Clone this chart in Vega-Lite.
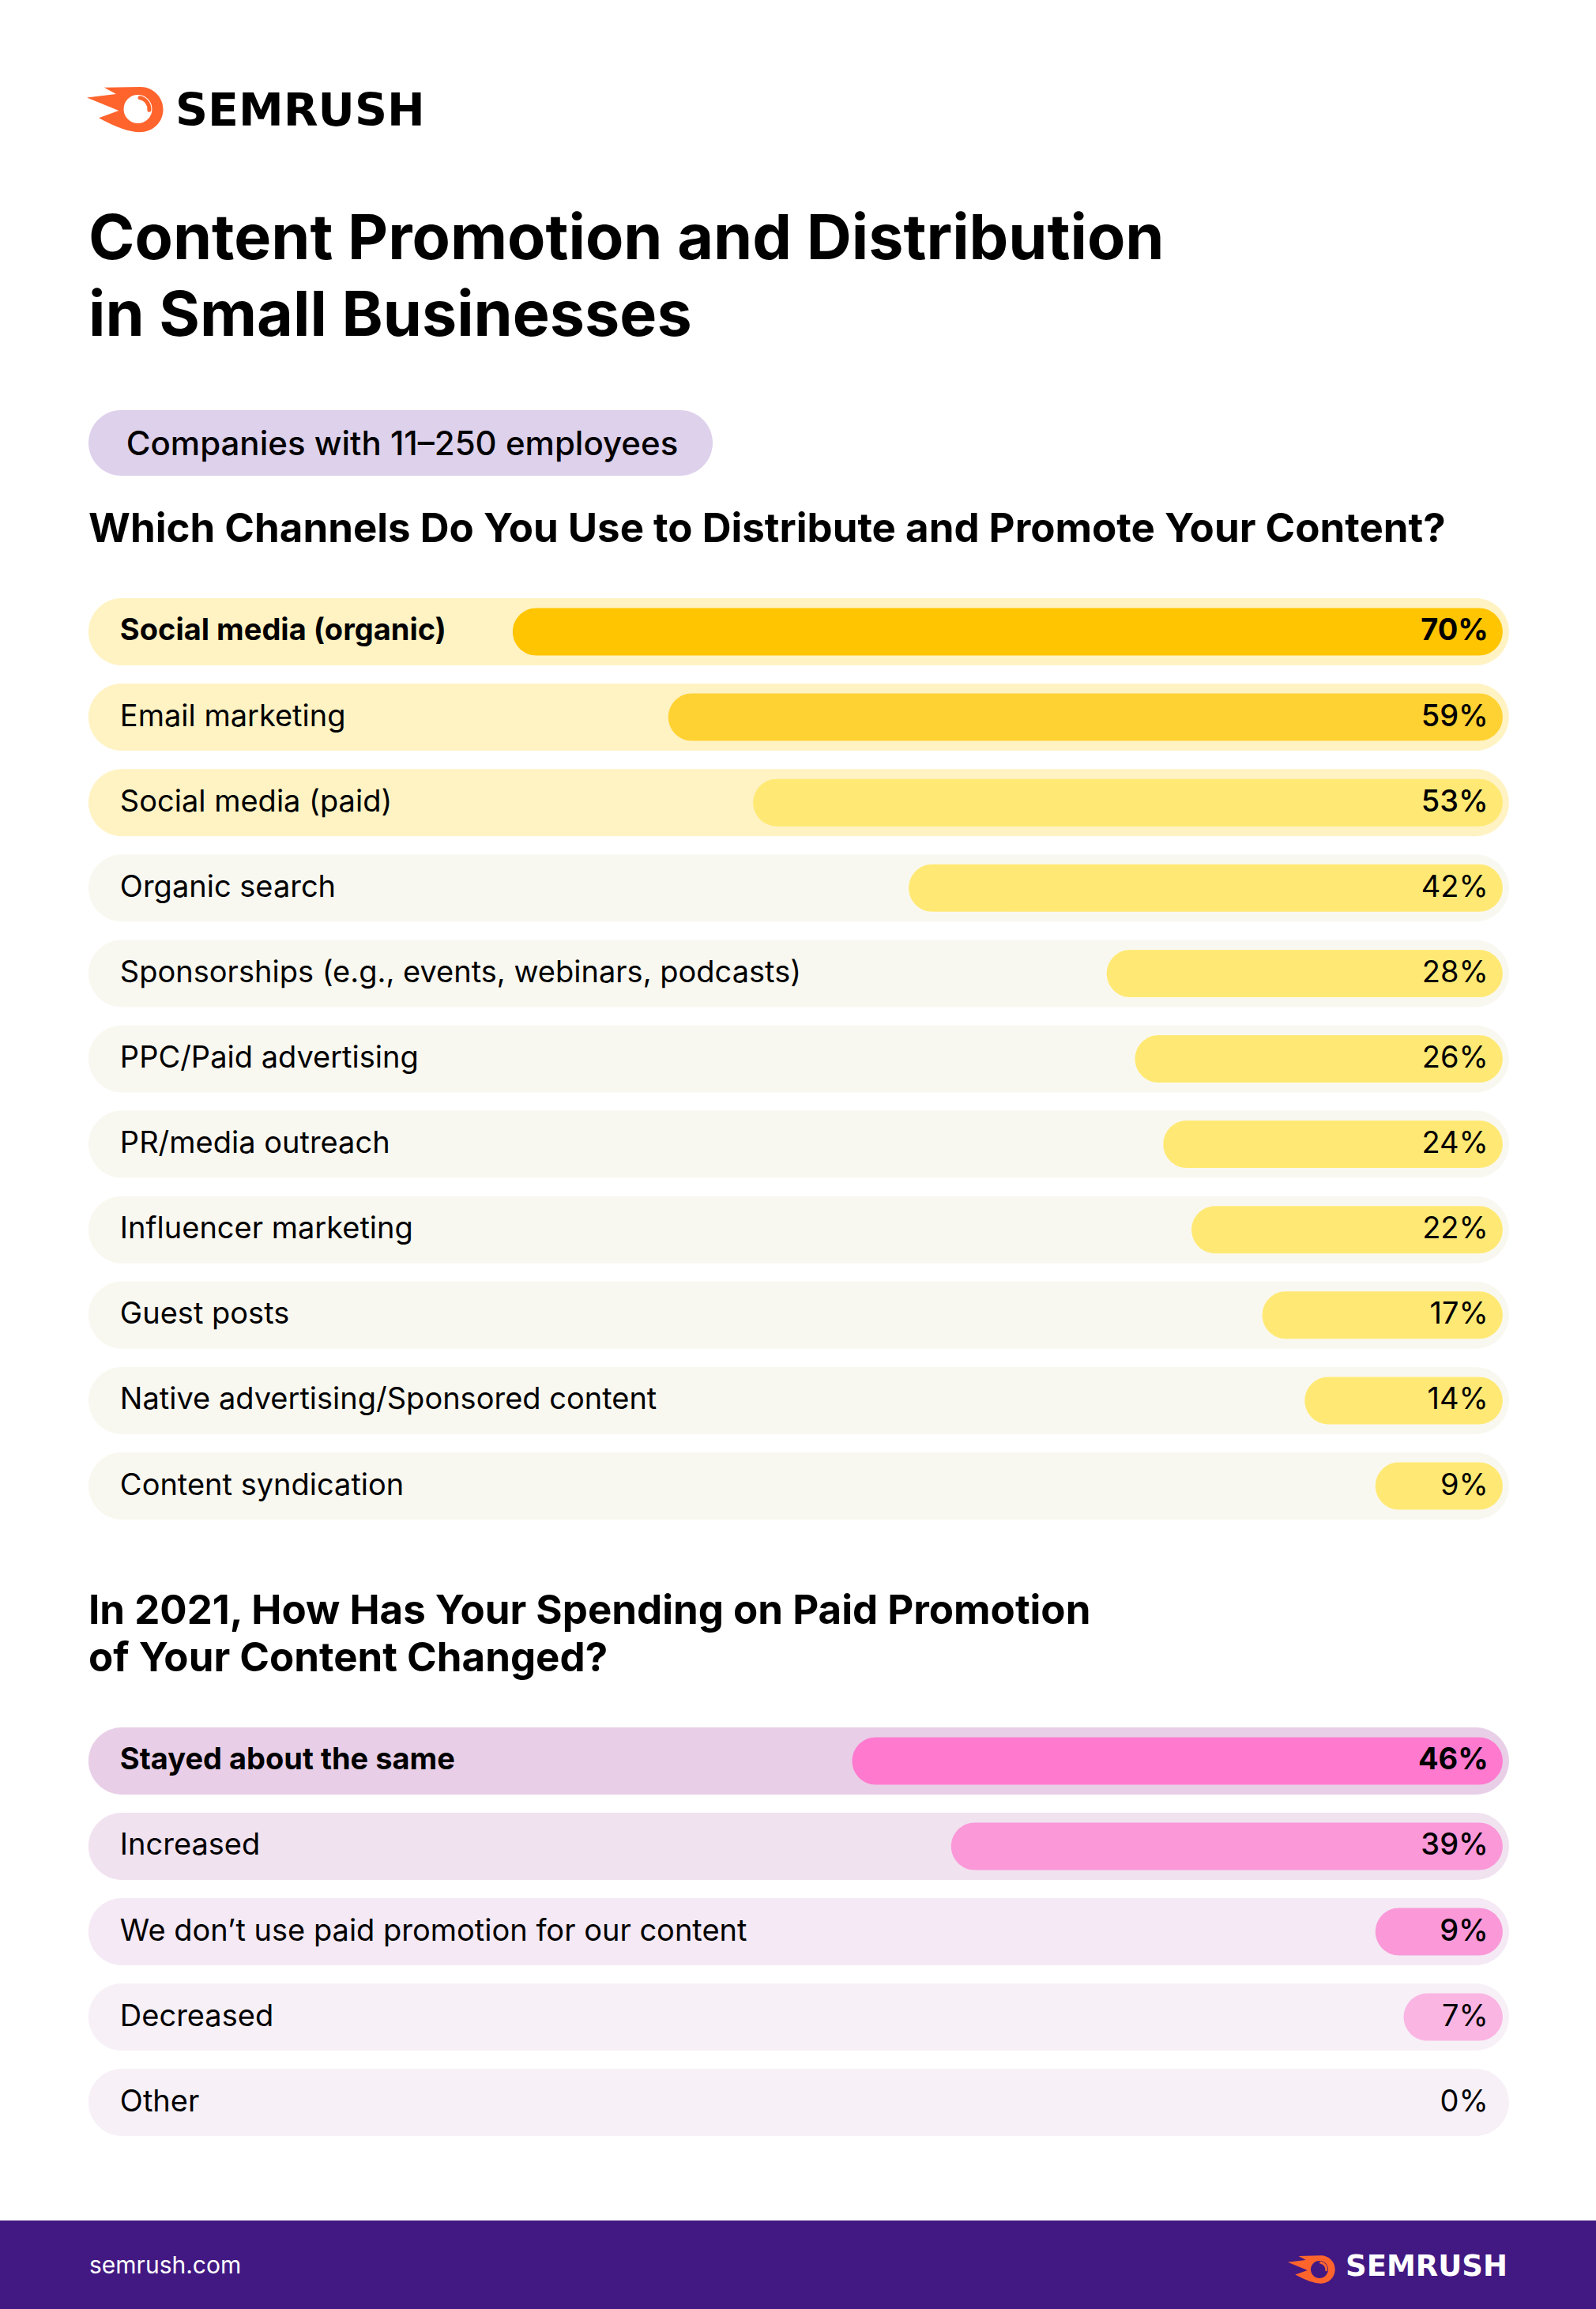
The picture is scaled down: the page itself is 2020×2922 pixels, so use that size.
{
  "$schema": "https://vega.github.io/schema/vega-lite/v6.json",
  "background": "#FFFFFF",
  "padding": 0,
  "spacing": 0,
  "bounds": "flush",
  "config": {"view": {"stroke": null}, "text": {"font": "Inter", "color": "#000000"}},
  "vconcat": [
    {
      "width": 2020, "height": 745,
      "data": {"values": [{}]},
      "layer": [
        {"mark": {"type": "point", "filled": true, "opacity": 1, "strokeWidth": 0, "color": "#FF642D", "size": 9409,
          "shape": "M -0.55 -0.57 L 0.40 -0.59 A 0.59 0.59 0 1 1 0.40 0.59 Q 0.0 0.6 -0.69 0.22 L -0.17 0.03 L -1 -0.31 L -0.24 -0.40 Z"},
         "encoding": {"x": {"datum": 158.5, "type": "quantitative", "scale": {"domain": [0, 2020], "nice": false, "zero": false}, "axis": null},
                      "y": {"datum": 138.5, "type": "quantitative", "scale": {"domain": [0, 745], "reverse": true, "nice": false, "zero": false}, "axis": null}}},
        {"mark": {"type": "point", "filled": true, "opacity": 1, "strokeWidth": 0, "color": "#FFFFFF", "size": 1296, "shape": "circle"},
         "encoding": {"x": {"datum": 174.5, "type": "quantitative"}, "y": {"datum": 138, "type": "quantitative"}}},
        {"mark": {"type": "point", "filled": false, "opacity": 1, "strokeWidth": 5, "strokeCap": "round", "color": "#FF642D", "size": 1296, "shape": "M 0.14 -0.79 A 0.8 0.8 0 0 1 0.8 0.07"},
         "encoding": {"x": {"datum": 174.5, "type": "quantitative"}, "y": {"datum": 138, "type": "quantitative"}}},
        {"mark": {"type": "text", "text": "SEMRUSH", "font": "DejaVu Sans", "fontWeight": "bold", "fontSize": 57, "align": "left", "baseline": "alphabetic"},
         "encoding": {"x": {"datum": 222, "type": "quantitative"}, "y": {"datum": 159, "type": "quantitative"}}},
        {"mark": {"type": "text", "text": ["Content Promotion and Distribution", "in Small Businesses"], "fontWeight": 700, "fontSize": 79, "lineHeight": 97, "align": "left", "baseline": "alphabetic"},
         "encoding": {"x": {"datum": 112, "type": "quantitative"}, "y": {"datum": 328, "type": "quantitative"}}},
        {"mark": {"type": "bar", "cornerRadius": 42, "color": "#DED1EC"},
         "encoding": {"x": {"datum": 112, "type": "quantitative"}, "x2": {"datum": 902}, "y": {"datum": 519, "type": "quantitative"}, "y2": {"datum": 602}}},
        {"mark": {"type": "text", "text": "Companies with 11–250 employees", "fontWeight": 500, "fontSize": 42, "align": "center", "baseline": "alphabetic"},
         "encoding": {"x": {"datum": 509, "type": "quantitative"}, "y": {"datum": 576, "type": "quantitative"}}},
        {"mark": {"type": "text", "text": "Which Channels Do You Use to Distribute and Promote Your Content?", "fontWeight": 700, "fontSize": 51, "align": "left", "baseline": "alphabetic"},
         "encoding": {"x": {"datum": 112, "type": "quantitative"}, "y": {"datum": 686, "type": "quantitative"}}}
      ]
    },
    {
      "width": 2020, "height": 1190,
      "data": {"values": [
        {"channel": "Social media (organic)", "share": 0.70},
        {"channel": "Email marketing", "share": 0.59},
        {"channel": "Social media (paid)", "share": 0.53},
        {"channel": "Organic search", "share": 0.42},
        {"channel": "Sponsorships (e.g., events, webinars, podcasts)", "share": 0.28},
        {"channel": "PPC/Paid advertising", "share": 0.26},
        {"channel": "PR/media outreach", "share": 0.24},
        {"channel": "Influencer marketing", "share": 0.22},
        {"channel": "Guest posts", "share": 0.17},
        {"channel": "Native advertising/Sponsored content", "share": 0.14},
        {"channel": "Content syndication", "share": 0.09}
      ]},
      "encoding": {"y": {"field": "channel", "type": "nominal", "sort": null, "axis": null, "scale": {"paddingInner": 0.2137, "paddingOuter": 0.111}}},
      "layer": [
        {"mark": {"type": "bar", "cornerRadius": 42.5},
         "encoding": {"x": {"datum": 1, "type": "quantitative", "scale": {"domain": [-0.066, 1.0625], "reverse": true, "nice": false, "zero": false}, "axis": null},
                      "x2": {"datum": -0.0045},
                      "color": {"field": "channel", "type": "nominal", "legend": null, "scale": {
                        "domain": ["Social media (organic)", "Email marketing", "Social media (paid)", "Organic search", "Sponsorships (e.g., events, webinars, podcasts)", "PPC/Paid advertising", "PR/media outreach", "Influencer marketing", "Guest posts", "Native advertising/Sponsored content", "Content syndication"],
                        "range": ["#FFF3C4", "#FFF3C4", "#FFF3C4", "#F9F8F0", "#F9F8F0", "#F9F8F0", "#F9F8F0", "#F9F8F0", "#F9F8F0", "#F9F8F0", "#F9F8F0"]}}}},
        {"mark": {"type": "bar", "cornerRadius": 30, "height": 60},
         "encoding": {"x": {"field": "share", "type": "quantitative"},
                      "x2": {"datum": 0},
                      "color": {"field": "channel", "type": "nominal", "legend": null, "scale": {
                        "domain": ["Social media (organic)", "Email marketing", "Social media (paid)", "Organic search", "Sponsorships (e.g., events, webinars, podcasts)", "PPC/Paid advertising", "PR/media outreach", "Influencer marketing", "Guest posts", "Native advertising/Sponsored content", "Content syndication"],
                        "range": ["#FFC500", "#FFD234", "#FFE974", "#FFE974", "#FFE974", "#FFE974", "#FFE974", "#FFE974", "#FFE974", "#FFE974", "#FFE974"]}}}},
        {"transform": [{"filter": {"field": "channel", "equal": "Social media (organic)"}}],
         "mark": {"type": "text", "fontSize": 38, "fontWeight": 700, "align": "left", "baseline": "middle", "dx": 40},
         "encoding": {"x": {"datum": 1, "type": "quantitative"}, "text": {"field": "channel"}}},
        {"transform": [{"filter": {"not": {"field": "channel", "equal": "Social media (organic)"}}}],
         "mark": {"type": "text", "fontSize": 38, "fontWeight": 400, "align": "left", "baseline": "middle", "dx": 40},
         "encoding": {"x": {"datum": 1, "type": "quantitative"}, "text": {"field": "channel"}}},
        {"transform": [{"filter": {"field": "channel", "equal": "Social media (organic)"}}],
         "mark": {"type": "text", "fontSize": 38, "fontWeight": 700, "align": "right", "baseline": "middle", "dx": -18},
         "encoding": {"x": {"datum": 0, "type": "quantitative"}, "text": {"field": "share", "format": ".0%"}}},
        {"transform": [{"filter": {"field": "channel", "oneOf": ["Email marketing", "Social media (paid)"]}}],
         "mark": {"type": "text", "fontSize": 38, "fontWeight": 500, "align": "right", "baseline": "middle", "dx": -18},
         "encoding": {"x": {"datum": 0, "type": "quantitative"}, "text": {"field": "share", "format": ".0%"}}},
        {"transform": [{"filter": {"not": {"field": "channel", "oneOf": ["Social media (organic)", "Email marketing", "Social media (paid)"]}}}],
         "mark": {"type": "text", "fontSize": 38, "fontWeight": 400, "align": "right", "baseline": "middle", "dx": -18},
         "encoding": {"x": {"datum": 0, "type": "quantitative"}, "text": {"field": "share", "format": ".0%"}}}
      ],
      "resolve": {"scale": {"color": "independent"}}
    },
    {
      "width": 2020, "height": 239,
      "data": {"values": [{}]},
      "layer": [
        {"mark": {"type": "text", "text": ["In 2021, How Has Your Spending on Paid Promotion", "of Your Content Changed?"], "fontWeight": 700, "fontSize": 51, "lineHeight": 60, "align": "left", "baseline": "alphabetic"},
         "encoding": {"x": {"datum": 112, "type": "quantitative", "scale": {"domain": [0, 2020], "nice": false, "zero": false}, "axis": null},
                      "y": {"datum": 120, "type": "quantitative", "scale": {"domain": [0, 239], "reverse": true, "nice": false, "zero": false}, "axis": null}}}
      ]
    },
    {
      "width": 2020, "height": 541,
      "data": {"values": [
        {"answer": "Stayed about the same", "share": 0.46},
        {"answer": "Increased", "share": 0.39},
        {"answer": "We don’t use paid promotion for our content", "share": 0.09},
        {"answer": "Decreased", "share": 0.07},
        {"answer": "Other", "share": 0.00}
      ]},
      "encoding": {"y": {"field": "answer", "type": "nominal", "sort": null, "axis": null, "scale": {"paddingInner": 0.2137, "paddingOuter": 0.111}}},
      "layer": [
        {"mark": {"type": "bar", "cornerRadius": 42.5},
         "encoding": {"x": {"datum": 1, "type": "quantitative", "scale": {"domain": [-0.066, 1.0625], "reverse": true, "nice": false, "zero": false}, "axis": null},
                      "x2": {"datum": -0.0045},
                      "color": {"field": "answer", "type": "nominal", "legend": null, "scale": {
                        "domain": ["Stayed about the same", "Increased", "We don’t use paid promotion for our content", "Decreased", "Other"],
                        "range": ["#E8CFE7", "#F1E2F0", "#F4E9F4", "#F7F0F7", "#F7F0F7"]}}}},
        {"mark": {"type": "bar", "cornerRadius": 30, "height": 60},
         "encoding": {"x": {"field": "share", "type": "quantitative"},
                      "x2": {"datum": 0},
                      "color": {"field": "answer", "type": "nominal", "legend": null, "scale": {
                        "domain": ["Stayed about the same", "Increased", "We don’t use paid promotion for our content", "Decreased", "Other"],
                        "range": ["#FF7ACF", "#FA98D8", "#FA98D8", "#FAB5E3", "#FAB5E3"]}}}},
        {"transform": [{"filter": {"field": "answer", "equal": "Stayed about the same"}}],
         "mark": {"type": "text", "fontSize": 38, "fontWeight": 700, "align": "left", "baseline": "middle", "dx": 40},
         "encoding": {"x": {"datum": 1, "type": "quantitative"}, "text": {"field": "answer"}}},
        {"transform": [{"filter": {"not": {"field": "answer", "equal": "Stayed about the same"}}}],
         "mark": {"type": "text", "fontSize": 38, "fontWeight": 400, "align": "left", "baseline": "middle", "dx": 40},
         "encoding": {"x": {"datum": 1, "type": "quantitative"}, "text": {"field": "answer"}}},
        {"transform": [{"filter": {"field": "answer", "equal": "Stayed about the same"}}],
         "mark": {"type": "text", "fontSize": 38, "fontWeight": 700, "align": "right", "baseline": "middle", "dx": -18},
         "encoding": {"x": {"datum": 0, "type": "quantitative"}, "text": {"field": "share", "format": ".0%"}}},
        {"transform": [{"filter": {"field": "answer", "oneOf": ["Increased", "We don’t use paid promotion for our content"]}}],
         "mark": {"type": "text", "fontSize": 38, "fontWeight": 500, "align": "right", "baseline": "middle", "dx": -18},
         "encoding": {"x": {"datum": 0, "type": "quantitative"}, "text": {"field": "share", "format": ".0%"}}},
        {"transform": [{"filter": {"field": "answer", "oneOf": ["Decreased", "Other"]}}],
         "mark": {"type": "text", "fontSize": 38, "fontWeight": 400, "align": "right", "baseline": "middle", "dx": -18},
         "encoding": {"x": {"datum": 0, "type": "quantitative"}, "text": {"field": "share", "format": ".0%"}}}
      ],
      "resolve": {"scale": {"color": "independent"}}
    },
    {
      "width": 2020, "height": 207,
      "data": {"values": [{}]},
      "layer": [
        {"mark": {"type": "bar", "color": "#421983"},
         "encoding": {"x": {"datum": 0, "type": "quantitative", "scale": {"domain": [0, 2020], "nice": false, "zero": false}, "axis": null},
                      "x2": {"datum": 2020},
                      "y": {"datum": 95, "type": "quantitative", "scale": {"domain": [0, 207], "reverse": true, "nice": false, "zero": false}, "axis": null},
                      "y2": {"datum": 207}}},
        {"mark": {"type": "text", "text": "semrush.com", "fontSize": 30, "fontWeight": 400, "color": "#FFFFFF", "align": "left", "baseline": "alphabetic"},
         "encoding": {"x": {"datum": 113, "type": "quantitative"}, "y": {"datum": 162, "type": "quantitative"}}},
        {"mark": {"type": "point", "filled": true, "opacity": 1, "strokeWidth": 0, "color": "#FF642D", "size": 3600,
          "shape": "M -0.55 -0.57 L 0.40 -0.59 A 0.59 0.59 0 1 1 0.40 0.59 Q 0.0 0.6 -0.69 0.22 L -0.17 0.03 L -1 -0.31 L -0.24 -0.40 Z"},
         "encoding": {"x": {"datum": 1660, "type": "quantitative"}, "y": {"datum": 157, "type": "quantitative"}}},
        {"mark": {"type": "point", "filled": true, "opacity": 1, "strokeWidth": 0, "color": "#421983", "size": 484, "shape": "circle"},
         "encoding": {"x": {"datum": 1670, "type": "quantitative"}, "y": {"datum": 157, "type": "quantitative"}}},
        {"mark": {"type": "point", "filled": false, "opacity": 1, "strokeWidth": 3, "strokeCap": "round", "color": "#FF642D", "size": 484, "shape": "M 0.14 -0.79 A 0.8 0.8 0 0 1 0.8 0.07"},
         "encoding": {"x": {"datum": 1670, "type": "quantitative"}, "y": {"datum": 157, "type": "quantitative"}}},
        {"mark": {"type": "text", "text": "SEMRUSH", "font": "DejaVu Sans", "fontWeight": "bold", "fontSize": 37, "color": "#FFFFFF", "align": "left", "baseline": "alphabetic"},
         "encoding": {"x": {"datum": 1703, "type": "quantitative"}, "y": {"datum": 165, "type": "quantitative"}}}
      ]
    }
  ]
}
